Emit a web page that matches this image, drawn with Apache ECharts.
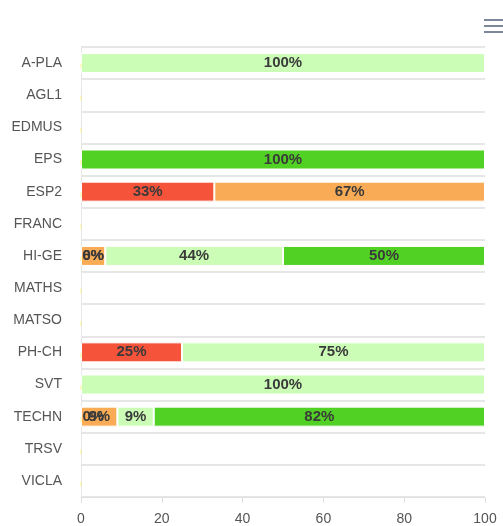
<!DOCTYPE html>
<html>
<head>
<meta charset="utf-8">
<script src="https://cdn.jsdelivr.net/npm/echarts@6/dist/echarts.min.js"></script>
<style>
  html, body { margin: 0; padding: 0; background: #fff; }
  #chart { width: 503px; height: 526px; }
</style>
</head>
<body>
<div id="chart"></div>
<script>
const subjects = ['A-PLA', 'AGL1', 'EDMUS', 'EPS', 'ESP2', 'FRANC', 'HI-GE', 'MATHS', 'MATSO', 'PH-CH', 'SVT', 'TECHN', 'TRSV', 'VICLA']
// percentage per level (null = nothing in that row)
const redVals   = [null, null, null, null, 33, null, 0, null, null, 25, null, 0, null, null]
const orangeVals = [null, null, null, null, 67, null, 6, null, null, null, null, 9, null, null]
const lightVals = [100, null, null, null, null, null, 44, null, null, 75, 100, 9, null, null]
const greenVals = [null, null, null, 100, null, null, 50, null, null, null, null, 82, null, null]
const zeroVals  = subjects.map(() => 0)
const xTicks = [0, 20, 40, 60, 80, 100]

const colors = ['#f5533a', '#f9ac55', '#ccfdb6', '#51d123']
const font = 'Arial, "Liberation Sans", sans-serif'

var div = document.getElementById('chart')
var myChart = echarts.init(div)

function barSeries(name, vals, color) {
  // zero-width bars keep their label just right of the axis
  var data = vals.map(function (v) {
    if (v === 0) return { value: 0, label: { position: 'insideLeft', distance: 2 } }
    return v
  })
  return {
    name: name,
    type: 'bar',
    stack: 'total',
    barWidth: 20,
    data: data,
    itemStyle: { color: color, borderColor: '#fff', borderWidth: 1 },
    label: {
      show: true,
      position: 'inside',
      formatter: '{c}%',
      color: '#3a3a3a',
      fontWeight: 'bold',
      fontSize: 15,
      fontFamily: font
    }
  }
}

var option = {
  animation: false,
  toolbox: {
    right: -15,
    top: 4,
    itemSize: 19,
    iconStyle: { color: '#7a8899', borderWidth: 0 },
    feature: {
      dataView: {
        show: true,
        icon: 'path://M0,0h19v2h-19zM0,6h19v2h-19zM0,12h19v2h-19zM0,18h19v0.01h-19z'
      }
    }
  },
  grid: { left: 81, right: 18, top: 47, bottom: 28 },
  xAxis: {
    type: 'value',
    min: xTicks[0],
    max: xTicks[xTicks.length - 1],
    interval: 20,
    axisLine: { show: true, lineStyle: { color: '#e0e0e0' } },
    axisTick: { show: true, length: 6, lineStyle: { color: '#e0e0e0' } },
    splitLine: { show: false },
    axisLabel: { color: '#555', fontSize: 14, fontFamily: font, margin: 15 }
  },
  yAxis: {
    type: 'category',
    inverse: true,
    data: subjects,
    axisLine: { show: true, lineStyle: { color: '#e6e6e6' } },
    axisTick: { show: false },
    splitLine: { show: true, lineStyle: { color: '#e6e6e6', width: 2 } },
    axisLabel: { color: '#555', fontSize: 14, fontFamily: font, margin: 19 }
  },
  series: [
    barSeries('red', redVals, colors[0]),
    barSeries('orange', orangeVals, colors[1]),
    barSeries('light', lightVals, colors[2]),
    barSeries('green', greenVals, colors[3]),
    {
      name: 'none',
      type: 'scatter',
      symbol: 'rect',
      symbolSize: [1, 5],
      symbolOffset: [0, 3],
      itemStyle: { color: '#f6f07a' },
      data: zeroVals,
      silent: true
    }
  ]
}
myChart.setOption(option)
</script>
</body>
</html>
